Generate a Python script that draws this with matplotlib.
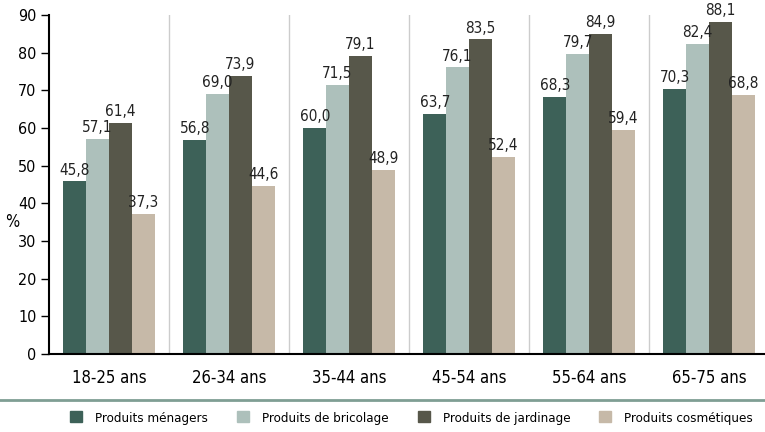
import numpy as np
import matplotlib.pyplot as plt
from matplotlib.patches import Patch
from matplotlib.lines import Line2D

plt.rcParams['font.family'] = ['DejaVu Sans']
plt.rcParams['font.stretch'] = 'condensed'

# data
categories = ["18-25 ans", "26-34 ans", "35-44 ans", "45-54 ans", "55-64 ans", "65-75 ans"]
menagers = [45.8, 56.8, 60.0, 63.7, 68.3, 70.3]
bricolage = [57.1, 69.0, 71.5, 76.1, 79.7, 82.4]
jardinage = [61.4, 73.9, 79.1, 83.5, 84.9, 88.1]
cosmetiques = [37.3, 44.6, 48.9, 52.4, 59.4, 68.8]
series_names = ["Produits ménagers", "Produits de bricolage",
                "Produits de jardinage", "Produits cosmétiques"]
colors = ["#3d6158", "#adc0bb", "#57574a", "#c6b9a8"]

fig = plt.figure(figsize=(7.65, 4.32), dpi=100)
ax = fig.add_axes([49/765, 78/432, 716/765, 339/432])

x = np.arange(len(categories))
w = 0.19
allser = [menagers, bricolage, jardinage, cosmetiques]
for k, vals in enumerate(allser):
    pos = x + (k - 1.5) * w
    ax.bar(pos, vals, w, color=colors[k], zorder=2)
    for px, v in zip(pos, vals):
        ax.text(px, v + 1.0, ("%.1f" % v).replace(".", ","), ha="center", va="bottom",
                fontsize=11, color="#222222", clip_on=False)

# group separators
for b in np.arange(0.5, len(categories) - 0.5, 1):
    ax.axvline(b, color="#cccccc", lw=1, zorder=1)

ax.set_xlim(-0.5, 5.5 - 4/120)
ax.set_ylim(0, 90)
ax.set_yticks(range(0, 91, 10))
ax.set_xticks(x)
ax.set_xticklabels(categories, fontsize=12)
ax.tick_params(axis="x", length=0, pad=11)
ax.tick_params(axis="y", length=6, width=1, labelsize=11.5, pad=3)
for s in ["top", "right"]:
    ax.spines[s].set_visible(False)
ax.spines["left"].set_linewidth(1.5)
ax.spines["bottom"].set_linewidth(1.5)
fig.text(12/765, 1 - 222/432, "%", fontsize=12, ha="center", va="center")

fig.add_artist(Line2D([0, 1], [32/432, 32/432], color="#7f9e94", lw=2))

handles = [Patch(color=c) for c in colors]
fig.legend(handles, series_names, loc="center", bbox_to_anchor=(538/1000, 14/432), ncol=4,
           frameon=False, fontsize=9.5, handlelength=0.9, handleheight=0.9,
           columnspacing=2.2, handletextpad=1.0)

fig.savefig("out.png", dpi=100)
